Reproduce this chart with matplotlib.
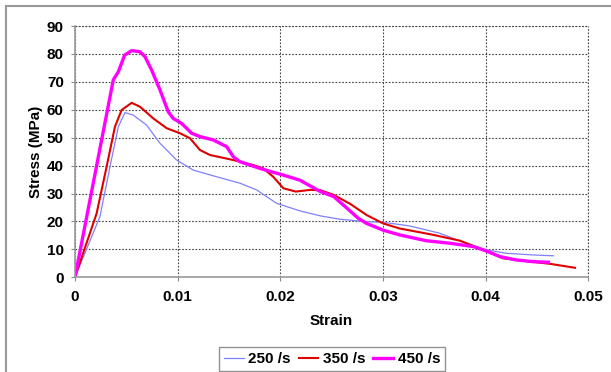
import matplotlib.pyplot as plt
from matplotlib.lines import Line2D

plt.rcParams['font.family'] = ['Liberation Sans', 'DejaVu Sans']
plt.rcParams['font.weight'] = 'bold'

# 250 /s
strain_250 = [0, 0.00243, 0.00341, 0.00422, 0.00487, 0.00568, 0.00698, 0.00828, 0.0099,
              0.01152, 0.0138, 0.01607, 0.01769, 0.01963, 0.0219, 0.0239, 0.0258, 0.0284,
              0.0300, 0.0326, 0.0355, 0.0381, 0.0400, 0.0420, 0.0446, 0.0466]
stress_250 = [0, 21.7, 39.6, 53.9, 59.0, 58.1, 54.5, 48.0, 42.0,
              38.4, 36.0, 33.7, 31.3, 26.5, 23.8, 22.0, 20.8, 19.9,
              19.7, 18.4, 15.8, 12.2, 9.9, 8.6, 8.0, 7.7]

# 350 /s
strain_350 = [0, 0.00211, 0.00308, 0.00389, 0.00454, 0.00552, 0.00633, 0.00763, 0.00893,
              0.01023, 0.0112, 0.01217, 0.01315, 0.01542, 0.01736, 0.01834, 0.01931, 0.02029,
              0.0215, 0.0229, 0.0239, 0.0252, 0.0268, 0.0284, 0.0300, 0.0316, 0.0349,
              0.0375, 0.0400, 0.0417, 0.0440, 0.0463, 0.0487]
stress_350 = [0, 22.9, 39.6, 53.9, 59.9, 62.5, 61.1, 56.9, 53.4,
              51.6, 49.8, 45.6, 43.8, 42.0, 40.2, 39.0, 36.0, 31.9,
              30.7, 31.3, 31.2, 29.5, 26.3, 22.3, 19.3, 17.5, 15.2,
              13.1, 9.5, 6.8, 5.8, 4.8, 3.4]

# 450 /s
strain_450 = [0, 0.00373, 0.00422, 0.00484, 0.00552, 0.00633, 0.00682, 0.00747, 0.00828,
              0.00908, 0.00957, 0.01039, 0.01136, 0.01217, 0.01347, 0.01477, 0.01542, 0.01607,
              0.01801, 0.02029, 0.0219, 0.0239, 0.0252, 0.0265, 0.0276, 0.0284, 0.0300,
              0.0316, 0.0342, 0.0365, 0.0388, 0.0400, 0.0414, 0.0430, 0.0446, 0.0461]
stress_450 = [0, 70.7, 73.6, 79.6, 81.2, 80.8, 79.0, 74.2, 67.1,
              59.3, 56.9, 55.1, 51.6, 50.4, 49.2, 46.8, 43.2, 41.4,
              39.0, 36.6, 34.8, 30.7, 28.9, 24.7, 21.1, 19.3, 16.9,
              15.2, 13.1, 12.2, 11.0, 9.5, 7.4, 6.2, 5.6, 5.4]

x_ticks = [0, 0.01, 0.02, 0.03, 0.04, 0.05]
x_labels = ['0', '0.01', '0.02', '0.03', '0.04', '0.05']
y_ticks = list(range(0, 91, 10))

fig = plt.figure(figsize=(6.11, 3.72), dpi=100)
ax = fig.add_axes([0.1227, 0.2546, 0.963 - 0.1227, 0.930 - 0.2546])

ax.plot(strain_250, stress_250, color='#8080ff', lw=0.9, label='250 /s')
ax.plot(strain_350, stress_350, color='#e00000', lw=1.5, label='350 /s')
ax.plot(strain_450, stress_450, color='#ff00ff', lw=2.4, label='450 /s')

ax.set_xlim(0, 0.05)
ax.set_ylim(0, 90)
ax.set_xticks(x_ticks)
ax.set_xticklabels(x_labels)
ax.set_yticks(y_ticks)
ax.tick_params(labelsize=11, length=3, color='#888888')
ax.tick_params(axis='x', pad=6)
ax.tick_params(axis='y', pad=5)
ax.grid(True, color='#444444', linestyle=(0, (1.5, 1.5)), linewidth=0.8)

for s in ['top', 'right']:
    ax.spines[s].set_visible(False)
for s in ['left', 'bottom']:
    ax.spines[s].set_color('#999999')
    ax.spines[s].set_linewidth(1.2)
# dotted edge lines at the top and right
ax.axhline(90, color='#444444', linestyle=(0, (1.5, 1.5)), lw=0.8, clip_on=False)
ax.axvline(0.05, color='#444444', linestyle=(0, (1.5, 1.5)), lw=0.8, clip_on=False)

ax.set_xlabel('Strain', fontsize=11, fontweight='bold', labelpad=7)
ax.set_ylabel('Stress (MPa)', fontsize=11, fontweight='bold', labelpad=3)

leg = fig.legend(loc='center', bbox_to_anchor=(332 / 611, 1 - 359 / 372), ncol=3,
                 fontsize=11, frameon=True, fancybox=False, handlelength=1.3,
                 handletextpad=0.3, columnspacing=0.5, borderpad=0.3)
leg.get_frame().set_edgecolor('#777777')
leg.get_frame().set_linewidth(1.0)

# outer figure frame (left and top edges)
fig.add_artist(Line2D([6 / 611, 6 / 611], [0, 1 - 6 / 372], color='#999999', lw=1.5))
fig.add_artist(Line2D([6 / 611, 1], [1 - 6 / 372, 1 - 6 / 372], color='#999999', lw=1.5))

fig.savefig('out.png', dpi=100)
